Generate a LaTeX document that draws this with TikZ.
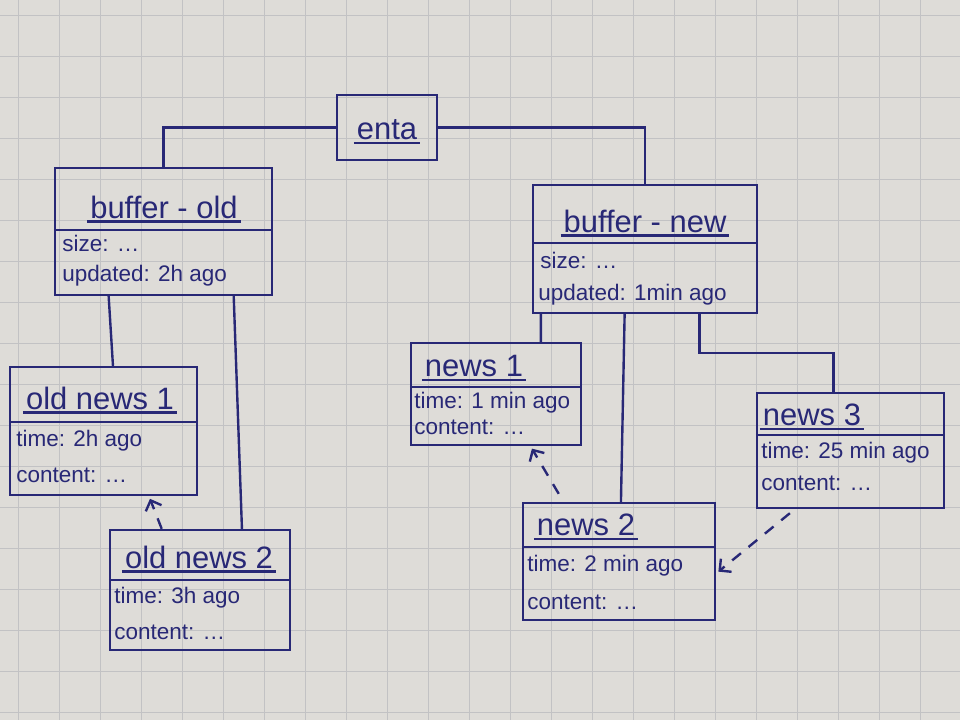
\documentclass[tikz,border=0pt]{standalone}
\usepackage{fontspec}
\setmainfont{Liberation Sans}
\usetikzlibrary{positioning}
\usetikzlibrary{calc}
\usetikzlibrary{fit}
\usetikzlibrary{arrows.meta}
\definecolor{ink}{RGB}{40,40,118}
\definecolor{paper}{RGB}{222,220,216}
\definecolor{gridgray}{RGB}{194,194,196}

\begin{document}
\begin{tikzpicture}[x=0.025cm,y=-0.025cm,
    pen/.style={draw=ink,line width=1.7pt},
    box/.style={pen,inner sep=0pt},
    title/.style={text=ink,font=\fontsize{22}{24}\selectfont,inner sep=2pt},
    row/.style={text=ink,font=\fontsize{16}{18}\selectfont,anchor=west,inner sep=0pt},
    link/.style={pen},
    older/.style={pen,dash pattern=on 8pt off 7pt,-{Straight Barb[length=6pt,width=12pt]},shorten >=2pt},
    gridline/.style={draw=gridgray,line width=0.7pt}]
  \path[use as bounding box,fill=paper] (0,0) rectangle (960,720);
  \foreach \gx in {18,59,...,960} \draw[gridline] (\gx,0) -- (\gx,720);
  \foreach \gy in {15,56,...,720} \draw[gridline] (0,\gy) -- (960,\gy);

  \node[box,fit={(337,95) (437,160)}] (enta) {};
  \node[title] (enta-t) at (387,130) {enta};
  \draw[pen] (enta-t.south west) -- (enta-t.south east);

  \node[box,fit={(55,168) (272,295)}] (bold) {};
  \node[title] (bold-t) at (164,207) {buffer - old};
  \draw[pen] (bold-t.south west) -- (bold-t.south east);
  \draw[pen] (bold.west |- 0,230) -- (bold.east |- 0,230);
  \node[row] (bold-size) at (62,243) {size: \dots};
  \node[row] (bold-upd) at (62,276) {updated: 2h ago};

  \node[box,fit={(533,185) (757,313)}] (bnew) {};
  \node[title] (bnew-t) at (645,221) {buffer - new};
  \draw[pen] (bnew-t.south west) -- (bnew-t.south east);
  \draw[pen] (bnew.west |- 0,243) -- (bnew.east |- 0,243);
  \node[row] (bnew-size) at (540,260) {size: \dots};
  \node[row] (bnew-upd) at (538,295) {updated: 1min ago};

  \node[box,fit={(10,367) (197,495)}] (onews1) {};
  \node[title] (onews1-t) at (100,398) {old news 1};
  \draw[pen] (onews1-t.south west) -- (onews1-t.south east);
  \draw[pen] (onews1.west |- 0,422) -- (onews1.east |- 0,422);
  \node[row] (onews1-time) at (16,441) {time: 2h ago};
  \node[row] (onews1-cont) at (16,475) {content: \dots};

  \node[box,fit={(110,530) (290,650)}] (onews2) {};
  \node[title] (onews2-t) at (199,557) {old news 2};
  \draw[pen] (onews2-t.south west) -- (onews2-t.south east);
  \draw[pen] (onews2.west |- 0,580) -- (onews2.east |- 0,580);
  \node[row] (onews2-time) at (114,598) {time: 3h ago};
  \node[row] (onews2-cont) at (114,632) {content: \dots};

  \node[box,fit={(411,343) (581,445)}] (news1) {};
  \node[title] (news1-t) at (474,366) {news 1};
  \draw[pen] (news1-t.south west) -- (news1-t.south east);
  \draw[pen] (news1.west |- 0,387) -- (news1.east |- 0,387);
  \node[row] (news1-time) at (414,403) {time: 1 min ago};
  \node[row] (news1-cont) at (414,427) {content: \dots};

  \node[box,fit={(523,503) (715,620)}] (news2) {};
  \node[title] (news2-t) at (586,525) {news 2};
  \draw[pen] (news2-t.south west) -- (news2-t.south east);
  \draw[pen] (news2.west |- 0,547) -- (news2.east |- 0,547);
  \node[row] (news2-time) at (527,566) {time: 2 min ago};
  \node[row] (news2-cont) at (527,602) {content: \dots};

  \node[box,fit={(757,393) (944,508)}] (news3) {};
  \node[title] (news3-t) at (812,415) {news 3};
  \draw[pen] (news3-t.south west) -- (news3-t.south east);
  \draw[pen] (news3.west |- 0,435) -- (news3.east |- 0,435);
  \node[row] (news3-time) at (761,453) {time: 25 min ago};
  \node[row] (news3-cont) at (761,483) {content: \dots};

  \draw[link] (enta.west) -| (bold.north);
  \draw[link] (enta.east) -| (bnew.north);
  \draw[link] ($(bold.south west)!0.25!(bold.south east)$) -- ($(onews1.north west)!0.55!(onews1.north east)$);
  \draw[link] ($(bold.south west)!0.82!(bold.south east)$) -- ($(onews2.north west)!0.73!(onews2.north east)$);
  \draw[link] ($(bnew.south west)!0.04!(bnew.south east)$) -- ($(news1.north west)!0.76!(news1.north east)$);
  \draw[link] ($(bnew.south west)!0.41!(bnew.south east)$) -- ($(news2.north west)!0.51!(news2.north east)$);
  \draw[link] ($(bnew.south west)!0.74!(bnew.south east)$) -- ++(0,39) -| ($(news3.north west)!0.41!(news3.north east)$);

  \draw[older] ($(onews2.north west)!0.29!(onews2.north east)$) -- ($(onews1.south west)!0.74!(onews1.south east)$);
  \draw[older] ($(news2.north west)!0.19!(news2.north east)+(0,-8)$) -- ($(news1.south west)!0.70!(news1.south east)$);
  \draw[older] ($(news3.south west)!0.18!(news3.south east)+(0,4)$) -- ($(news2.north east)!0.6!(news2.south east)$);
\end{tikzpicture}
\end{document}
